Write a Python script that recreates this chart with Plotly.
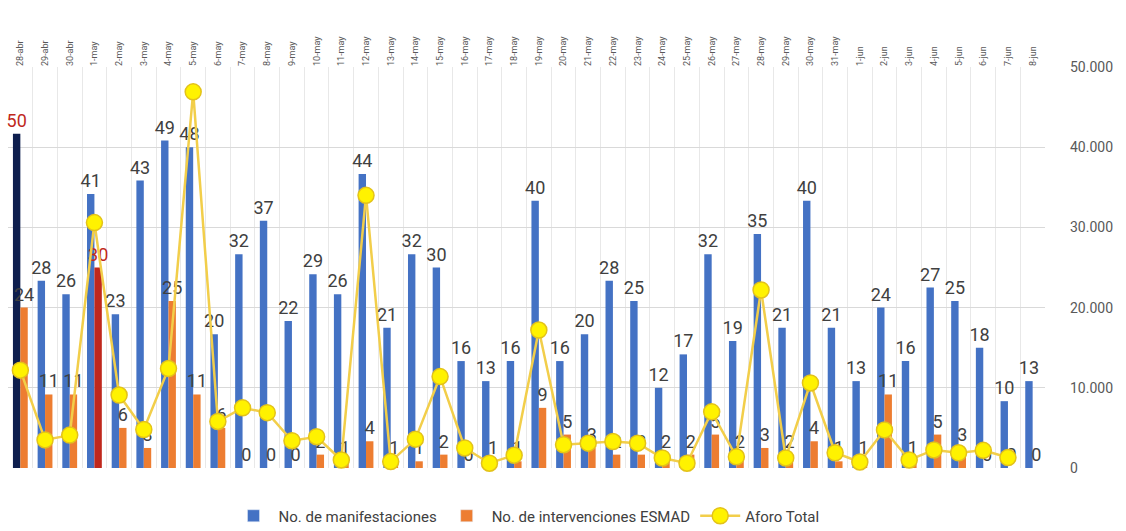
import plotly.graph_objects as go

fechas = [
    "28-abr", "29-abr", "30-abr",
    "1-may", "2-may", "3-may", "4-may", "5-may", "6-may", "7-may", "8-may",
    "9-may", "10-may", "11-may", "12-may", "13-may", "14-may", "15-may",
    "16-may", "17-may", "18-may", "19-may", "20-may", "21-may", "22-may",
    "23-may", "24-may", "25-may", "26-may", "27-may", "28-may", "29-may",
    "30-may", "31-may",
    "1-jun", "2-jun", "3-jun", "4-jun", "5-jun", "6-jun", "7-jun", "8-jun",
]

manifestaciones = [
    50, 28, 26, 41, 23, 43, 49, 48, 20, 32, 37, 22, 29, 26, 44, 21, 32, 30,
    16, 13, 16, 40, 16, 20, 28, 25, 12, 17, 32, 19, 35, 21, 40, 21,
    13, 24, 16, 27, 25, 18, 10, 13,
]

intervenciones = [
    24, 11, 11, 30, 6, 3, 25, 11, 6, 0, 0, 0, 2, 1, 4, 1, 1, 2,
    0, 1, 1, 9, 5, 3, 2, 2, 2, 2, 5, 2, 3, 2, 4, 1,
    1, 11, 1, 5, 3, 0, 0, 0,
]

aforo = [
    12200, 3500, 4100, 30600, 9100, 4800, 12400, 46900, 5800, 7500, 6900,
    3400, 3900, 1000, 34000, 800, 3600, 11400, 2500, 600, 1600, 17200,
    2900, 3100, 3300, 3100, 1250, 600, 7000, 1400, 22200, 1250, 10600,
    1900, 750, 4750, 1000, 2250, 1900, 2200, 1300, None,
]

# Days with a highlighted record value
pico_manifestaciones = "28-abr"
pico_intervenciones = "1-may"

AZUL = "#4472C4"
AZUL_OSCURO = "#0E1E4E"
NARANJA = "#ED7D31"
ROJO = "#C0281C"
GRIS = "#404040"
FUENTE = "Liberation Sans Narrow, Roboto, sans-serif"

color_manif = [AZUL_OSCURO if f == pico_manifestaciones else AZUL for f in fechas]
texto_manif = [ROJO if f == pico_manifestaciones else GRIS for f in fechas]
color_interv = [ROJO if f == pico_intervenciones else NARANJA for f in fechas]
texto_interv = [ROJO if f == pico_intervenciones else GRIS for f in fechas]

fig = go.Figure()

fig.add_trace(go.Bar(
    x=fechas, y=manifestaciones, name="No. de manifestaciones",
    marker=dict(color=color_manif, line=dict(width=0)),
    text=[str(v) for v in manifestaciones], textposition="outside",
    textangle=0, constraintext="none", cliponaxis=False,
    textfont=dict(family=FUENTE, size=18, color=texto_manif),
    offsetgroup="manif", showlegend=False, yaxis="y",
))

fig.add_trace(go.Bar(
    x=fechas, y=intervenciones, name="No. de intervenciones ESMAD",
    marker=dict(color=color_interv, line=dict(width=0)),
    text=[str(v) for v in intervenciones], textposition="outside",
    textangle=0, constraintext="none", cliponaxis=False,
    textfont=dict(family=FUENTE, size=18, color=texto_interv),
    offsetgroup="interv", showlegend=False, yaxis="y",
))

# Legend entries in the plain series colours
fig.add_trace(go.Bar(
    x=[None], y=[None], name="No. de manifestaciones",
    marker=dict(color=AZUL), offsetgroup="manif", yaxis="y",
))
fig.add_trace(go.Bar(
    x=[None], y=[None], name="No. de intervenciones ESMAD",
    marker=dict(color=NARANJA), offsetgroup="interv", yaxis="y",
))

fig.add_trace(go.Scatter(
    x=fechas, y=aforo, name="Aforo Total", mode="lines+markers",
    line=dict(color="#F2CE4A", width=2.5),
    marker=dict(size=16, color="#FFF200", line=dict(color="#E3C21A", width=1.5)),
    connectgaps=False, cliponaxis=False,
    yaxis="y2",
))

fig.update_layout(
    width=1126, height=531,
    margin=dict(l=8, r=81, t=67, b=63, autoexpand=False),
    paper_bgcolor="white", plot_bgcolor="white",
    separators=",.",
    barmode="group", bargap=0.4, bargroupgap=0.0,
    font=dict(family=FUENTE, color=GRIS),
    xaxis=dict(
        type="category", side="top", range=[-0.5, len(fechas) - 0.5],
        tickangle=-90, tickfont=dict(size=9, color="#595959"),
        showgrid=True, gridcolor="#E8E8E8", gridwidth=1, tickson="boundaries",
        ticks="", showline=False, zeroline=False,
    ),
    yaxis=dict(
        range=[0, 60], showticklabels=False, showgrid=False,
        zeroline=False, showline=False, ticks="",
    ),
    yaxis2=dict(
        overlaying="y", side="right", range=[0, 50000], dtick=10000,
        tickformat=",d", tickfont=dict(size=14, color="#595959"),
        showgrid=True, gridcolor="#D9D9D9", gridwidth=1,
        zeroline=False, showline=False, ticks="", ticklabelstandoff=24,
    ),
    legend=dict(
        orientation="h", x=0.5, xanchor="center",
        yref="container", y=15 / 531, yanchor="middle",
        font=dict(size=15, color=GRIS), traceorder="normal",
        itemwidth=40,
    ),
    showlegend=True,
)

fig.write_html("out.html")
